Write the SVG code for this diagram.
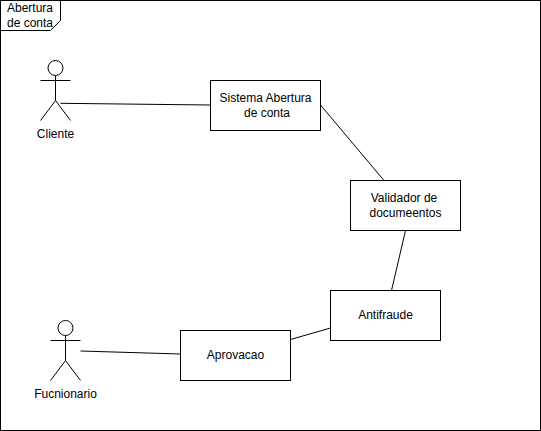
<svg xmlns="http://www.w3.org/2000/svg" width="541" height="431" viewBox="0 0 541 431">
<style>
.s{fill:none;stroke:#000;stroke-width:1}
.b{fill:#fff;stroke:#000;stroke-width:1}
text{font-family:"Liberation Sans",Arial,sans-serif;font-size:12px;fill:#000;text-anchor:middle}
</style>
<rect width="541" height="431" fill="#fff"/>
<g id="frame">
<rect class="s" x="0.5" y="0.5" width="540" height="430"/>
<path class="b" d="M0.5 0.5H60.5V20.5L50.5 30.5H0.5Z"/>
<text x="30" y="12">Abertura</text>
<text x="30" y="27">de conta</text>
</g>
<g id="connectors">
<path class="s" d="M60.5 103.3L210.5 105"/>
<path class="s" d="M320.5 105L384 180.5"/>
<path class="s" d="M405.5 230.5L391.5 290.5"/>
<path class="s" d="M330.5 328L290.5 339.5"/>
<path class="s" d="M80.5 351L180.5 354"/>
</g>
<g id="cliente">
<circle class="s" cx="55.5" cy="68" r="7.5"/>
<path class="s" d="M55.5 75.5V100.5M40.5 80.5H70.5M55.5 100.5L40.5 120.5M55.5 100.5L70.5 120.5"/>
<text x="55.5" y="138">Cliente</text>
</g>
<g id="funcionario">
<circle class="s" cx="65.5" cy="328" r="7.5"/>
<path class="s" d="M65.5 335.5V360.5M50.5 340.5H80.5M65.5 360.5L50.5 380.5M65.5 360.5L80.5 380.5"/>
<text x="65.5" y="398">Fucnionario</text>
</g>
<g id="sistema">
<rect class="b" x="210.5" y="80.5" width="110" height="50"/>
<text x="265.5" y="102">Sistema Abertura</text>
<text x="267" y="117">de conta</text>
</g>
<g id="validador">
<rect class="b" x="350.5" y="180.5" width="110" height="50"/>
<text x="404" y="202">Validador de</text>
<text x="405.5" y="217">documeentos</text>
</g>
<g id="antifraude">
<rect class="b" x="330.5" y="290.5" width="110" height="50"/>
<text x="385.5" y="319">Antifraude</text>
</g>
<g id="aprovacao">
<rect class="b" x="180.5" y="330.5" width="110" height="50"/>
<text x="235.5" y="359">Aprovacao</text>
</g>
</svg>
